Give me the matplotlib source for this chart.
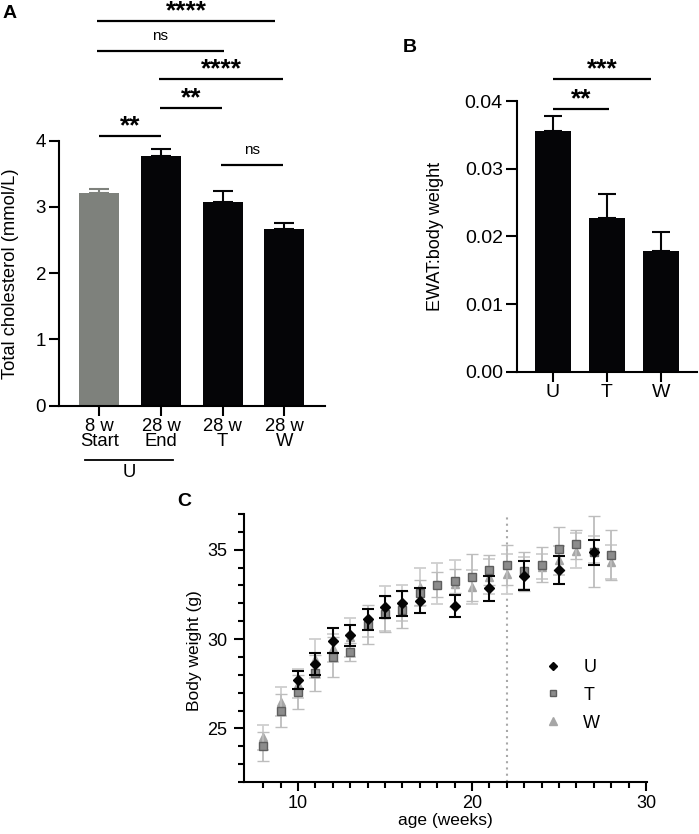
import numpy as np
import matplotlib
matplotlib.use("Agg")
import matplotlib.pyplot as plt
from matplotlib.ticker import MultipleLocator, FixedLocator
from matplotlib.lines import Line2D

plt.rcParams['font.family'] = ['Liberation Sans', 'DejaVu Sans']

# ---------------- Data ----------------
# Panel A
a_labels = ["8 w\nStart", "28 w\nEnd", "28 w\nT", "28 w\nW"]
a_means = [3.21, 3.77, 3.07, 2.66]
a_sem = [0.06, 0.10, 0.17, 0.10]
a_colors = ["#7e817c", "#050507", "#050507", "#050507"]
# significance: (x1, x2, y, label)
a_sig = [(0.0, 1.0, 4.07, "**"), (1.97, 2.98, 3.63, "ns"), (0.98, 1.99, 4.49, "**"),
         (0.97, 2.98, 4.93, "****"), (-0.04, 2.02, 5.36, "ns"), (-0.04, 2.85, 5.80, "****")]

# Panel B
b_labels = ["U", "T", "W"]
b_means = [0.0355, 0.0227, 0.0179]
b_sem = [0.0023, 0.0035, 0.0028]
b_sig = [(0.01, 1.03, 0.03876, "**"), (0.01, 1.81, 0.04319, "***")]

# Panel C
weeks = list(range(8, 29))
u_mean = [np.nan, np.nan, 27.7, 28.6, 29.9, 30.2, 31.1, 31.8, 32.0, 32.15, np.nan, 31.85,
          np.nan, 32.85, np.nan, 33.55, np.nan, 33.85, np.nan, 34.85, np.nan]
u_err = [np.nan, np.nan, 0.5, 0.6, 0.7, 0.6, 0.6, 0.6, 0.7, 0.7, np.nan, 0.6,
         np.nan, 0.7, np.nan, 0.8, np.nan, 0.78, np.nan, 0.7, np.nan]
t_mean = [24.0, 26.0, 27.05, 28.1, 29.0, 29.3, 30.8, 31.4, 31.65, 32.6, 33.05, 33.25,
          33.45, 33.85, 34.15, 33.8, 34.15, 35.05, 35.3, 34.9, 34.7]
t_err = [0.8, 0.9, 0.95, 1.0, 1.1, 0.5, 1.1, 1.0, 1.05, 0.7, 0.72, 0.67,
         1.3, 0.85, 1.12, 1.1, 0.98, 1.2, 0.8, 2.0, 1.4]
w_mean = [24.5, 26.5, 27.5, 28.9, 29.5, 30.1, 30.9, 31.7, 32.0, 32.9, 33.1, 33.1,
          32.9, 33.5, 33.65, 33.7, 34.05, 34.4, 34.95, 35.0, 34.3]
w_err = [0.7, 0.8, 0.8, 1.1, 0.8, 1.1, 0.8, 1.25, 1.0, 1.05, 1.15, 1.3,
         0.95, 1.0, 1.1, 0.9, 0.7, 0.8, 1.0, 0.75, 0.95]
c_vline = 22

# ---------------- Figure ----------------
W, H = 699, 834
fig = plt.figure(figsize=(W / 100, H / 100), dpi=100)

def px_axes(l, r, t, b):
    return fig.add_axes([l / W, 1 - b / H, (r - l) / W, (b - t) / H])

SPW = 1.5

def style(ax, ts):
    for s in ["top", "right"]:
        ax.spines[s].set_visible(False)
    for s in ["left", "bottom"]:
        ax.spines[s].set_linewidth(SPW)
    ax.tick_params(width=SPW, labelsize=ts, direction="out")

def sig(ax, x1, x2, y, lab):
    ax.plot([x1, x2], [y, y], color="black", lw=1.6, clip_on=False, solid_capstyle="butt")
    xc = (x1 + x2) / 2
    if lab == "ns":
        ax.annotate(lab, xy=(xc, y), xytext=(0, 5.8), textcoords="offset points",
                    ha="center", va="bottom", fontsize=11, annotation_clip=False)
    else:
        ax.annotate(lab, xy=(xc, y), xytext=(0, -1.3), textcoords="offset points",
                    ha="center", va="bottom", fontsize=19, fontweight="bold",
                    annotation_clip=False)

# ---- Panel A ----
axA = px_axes(59.3, 325, 140.7, 405.7)
xa = np.arange(len(a_means))
axA.bar(xa, a_means, width=0.65, color=a_colors, zorder=2)
for xi, m, e, c in zip(xa, a_means, a_sem, a_colors):
    axA.errorbar([xi], [m], yerr=[[0], [e]], fmt="none", ecolor=c, elinewidth=1.5,
                 capsize=7, capthick=1.5, zorder=1)
axA.set_xlim(-0.65, 3.66)
axA.set_ylim(0, 4)
axA.set_yticks([0, 1, 2, 3, 4])
axA.set_xticks(xa)
axA.set_xticklabels(a_labels, linespacing=0.9)
style(axA, 13.5)
axA.tick_params(axis="x", length=7, pad=1.5, labelsize=13.3)
axA.tick_params(axis="y", length=7.5, pad=2)
axA.set_ylabel("Total cholesterol (mmol/L)", fontsize=13.2)
axA.yaxis.set_label_coords(-0.185, 0.5)
axA.yaxis.label.set_va("center")
for x1, x2, y, lab in a_sig:
    sig(axA, x1, x2, y, lab)
trA = axA.get_xaxis_transform()
axA.plot([-0.23, 1.2], [-0.205, -0.205], color="black", lw=1.3, transform=trA, clip_on=False)
axA.text(0.485, -0.253, "U", transform=trA, ha="center", va="center", fontsize=13.3)

# ---- Panel B ----
axB = px_axes(516.7, 696.7, 101, 371.7)
xb = np.arange(len(b_means))
axB.bar(xb, b_means, width=0.66, color="#050507", zorder=2)
axB.errorbar(xb, b_means, yerr=[np.zeros(len(b_sem)), b_sem], fmt="none",
             ecolor="#050507", elinewidth=1.5, capsize=6.8, capthick=1.5, zorder=1)
axB.set_xlim(-0.67, 2.66)
axB.set_ylim(0, 0.04)
axB.set_yticks([0, 0.01, 0.02, 0.03, 0.04])
axB.set_yticklabels(["0.00", "0.01", "0.02", "0.03", "0.04"])
axB.set_xticks(xb)
axB.set_xticklabels(b_labels)
style(axB, 14)
axB.tick_params(axis="x", length=7, pad=2)
axB.tick_params(axis="y", length=8, pad=2)
axB.set_ylabel("EWAT:body weight", fontsize=13)
axB.yaxis.set_label_coords((436 - 516.7) / 180, 0.5)
axB.yaxis.label.set_va("center")
for x1, x2, y, lab in b_sig:
    sig(axB, x1, x2, y, lab)

# ---- Panel C ----
axC = px_axes(244, 647, 514, 782)
axC.axvline(c_vline, color="#a8a8a8", lw=1.5, ls=(0, (1, 2)), zorder=0)
axC.errorbar(weeks, w_mean, yerr=w_err, fmt="^", color="#a6a6a6", ms=6,
             mec="#a6a6a6", ecolor="#cfcfcf", elinewidth=1.3, capsize=4, capthick=1.3,
             zorder=2)
axC.errorbar(weeks, t_mean, yerr=t_err, fmt="s", color="#8c8c8c", ms=5.5,
             mec="#5e5e5e", mew=1.0, ecolor="#bdbdbd", elinewidth=1.3, capsize=4,
             capthick=1.3, zorder=3)
axC.errorbar(weeks, u_mean, yerr=u_err, fmt="D", color="#050505", ms=5,
             ecolor="#050505", elinewidth=1.5, capsize=4, capthick=1.5, zorder=4)
axC.set_xlim(6.9, 30.05)
axC.set_ylim(22, 37)
axC.set_xticks([10, 20, 30])
axC.xaxis.set_minor_locator(FixedLocator(list(range(8, 31))))
axC.set_yticks([25, 30, 35])
axC.yaxis.set_minor_locator(MultipleLocator(1))
style(axC, 13)
axC.tick_params(axis="x", which="major", length=6.5, pad=2.5)
axC.tick_params(axis="x", which="minor", length=4, width=SPW)
axC.tick_params(axis="y", which="major", length=7.5, pad=4.5)
axC.tick_params(axis="y", which="minor", length=4.5, width=SPW)
axC.set_ylabel("Body weight (g)", fontsize=12.5)
axC.yaxis.set_label_coords((195 - 244) / 403, 0.49)
axC.yaxis.label.set_va("center")
axC.set_xlabel("age (weeks)", fontsize=12.5)
axC.xaxis.set_label_coords(0.5, (782 - 821) / 268)
axC.xaxis.label.set_va("center")
leg_handles = [Line2D([], [], marker="D", ls="none", color="#050505", ms=4.5),
               Line2D([], [], marker="s", ls="none", color="#8c8c8c", mec="#5e5e5e", ms=5),
               Line2D([], [], marker="^", ls="none", color="#a6a6a6", ms=5.5)]
axC.legend(leg_handles, ["U", "T", "W"], loc="upper left", bbox_to_anchor=(0.703, 0.52),
           frameon=False, fontsize=13, handletextpad=1.2, labelspacing=0.6,
           handlelength=1.0)

# Panel letters
fig.text(10 / W, 1 - 14 / H, "A", fontsize=14, fontweight="bold", ha="center", va="center")
fig.text(410 / W, 1 - 48 / H, "B", fontsize=14, fontweight="bold", ha="center", va="center")
fig.text(184 / W, 1 - 502 / H, "C", fontsize=14, fontweight="bold", ha="center", va="center")

fig.savefig("out.png", dpi=100)
